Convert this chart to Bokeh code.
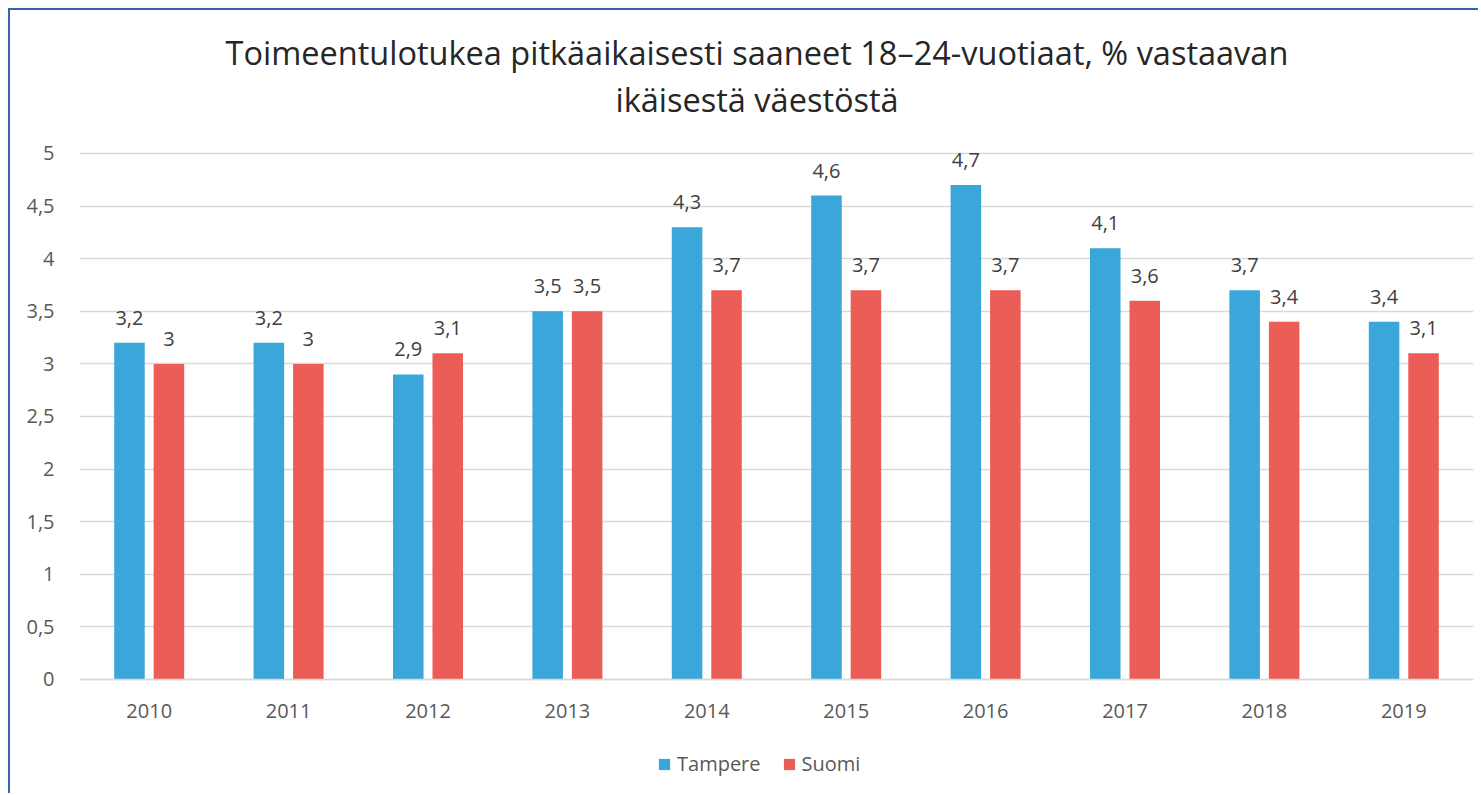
from bokeh.plotting import figure
from bokeh.models import FactorRange, Range1d, Legend, LegendItem, Title, ColumnDataSource
from bokeh.transform import dodge
from bokeh.embed import file_html
from bokeh.resources import INLINE
from bokeh.core.properties import value

years = ["2010", "2011", "2012", "2013", "2014", "2015", "2016", "2017", "2018", "2019"]
tampere = [3.2, 3.2, 2.9, 3.5, 4.3, 4.6, 4.7, 4.1, 3.7, 3.4]
suomi = [3.0, 3.0, 3.1, 3.5, 3.7, 3.7, 3.7, 3.6, 3.4, 3.1]
series_names = ["Tampere", "Suomi"]
y_ticks = [0, 0.5, 1, 1.5, 2, 2.5, 3, 3.5, 4, 4.5, 5]
y_tick_labels = ["0", "0,5", "1", "1,5", "2", "2,5", "3", "3,5", "4", "4,5", "5"]
title_lines = ["Toimeentulotukea pitkäaikaisesti saaneet 18–24-vuotiaat, % vastaavan",
               "ikäisestä väestöstä"]

FONT = "Open Sans"
BLUE = "#3AA6D9"
RED = "#EB5D57"
# visible frame extends above 5 (title spacing) and below 0 (axis labels + legend)
Y_TOP = 5.3041
Y_BOTTOM = -1.1027


def fmt(v):
    return ("%g" % v).replace(".", ",")


src = ColumnDataSource(dict(
    years=years, tampere=tampere, suomi=suomi,
    tampere_lbl=[fmt(v) for v in tampere],
    suomi_lbl=[fmt(v) for v in suomi],
))

p = figure(x_range=FactorRange(*years), y_range=Range1d(Y_BOTTOM, Y_TOP),
           width=1470, height=785, title=None,
           output_backend="svg", toolbar_location=None,
           min_border_left=69, min_border_right=7, min_border_top=111, min_border_bottom=0)
p.styles = {"position": "relative", "left": "8px", "top": "8px",
            "border-left": "2px solid #3A62B3", "border-top": "2px solid #3A62B3"}
p.outline_line_color = None
p.background_fill_color = "white"
p.border_fill_color = "white"

p.add_layout(Title(text=title_lines[1], align="left", offset=536, text_font=FONT,
                   text_font_size="32.5px", text_font_style="normal",
                   text_color="#262626", standoff=0), "above")
p.add_layout(Title(text=title_lines[0], align="left", offset=146, text_font=FONT,
                   text_font_size="32.5px", text_font_style="normal",
                   text_color="#262626", standoff=0), "above")

off = 0.1416
w = 0.219
r1 = p.vbar(x=dodge("years", -off, range=p.x_range), top="tampere", bottom=0, width=w,
            source=src, fill_color=BLUE, line_color=None)
r2 = p.vbar(x=dodge("years", off, range=p.x_range), top="suomi", bottom=0, width=w,
            source=src, fill_color=RED, line_color=None)

for col, o in (("tampere", -off), ("suomi", off)):
    p.text(x=dodge("years", o, range=p.x_range), y=col, text=col + "_lbl", source=src,
           text_align="center", text_baseline="bottom", y_offset=-18,
           text_font=value(FONT), text_font_size="20px", text_color="#404040")

p.xgrid.visible = False
p.ygrid.grid_line_color = "#D9D9D9"
p.ygrid.grid_line_width = 1.5

p.yaxis.ticker = y_ticks
p.yaxis.major_label_overrides = {float(t): l for t, l in zip(y_ticks, y_tick_labels)}
p.yaxis.axis_line_color = None
p.yaxis.major_tick_line_color = None
p.yaxis.minor_tick_line_color = None
p.yaxis.major_label_standoff = 19
p.yaxis.major_label_text_font = FONT
p.yaxis.major_label_text_font_size = "20px"
p.yaxis.major_label_text_color = "#595959"

p.xaxis.fixed_location = 0
p.xaxis.axis_line_color = "#D9D9D9"
p.xaxis.axis_line_width = 1.5
p.xaxis.major_tick_line_color = None
p.xaxis.minor_tick_line_color = None
p.xaxis.major_label_standoff = 19
p.xaxis.major_label_text_font = FONT
p.xaxis.major_label_text_font_size = "20px"
p.xaxis.major_label_text_color = "#595959"

legend = Legend(items=[LegendItem(label=series_names[0], renderers=[r1]),
                       LegendItem(label=series_names[1], renderers=[r2])],
                orientation="horizontal", location=(578, 18),
                padding=0, margin=0, spacing=21, label_standoff=6,
                glyph_width=14, glyph_height=14,
                border_line_color=None, background_fill_alpha=0,
                label_text_font=FONT, label_text_font_size="20px", label_text_color="#595959")
p.add_layout(legend, "center")

open("out.html", "w").write(file_html(p, INLINE))
